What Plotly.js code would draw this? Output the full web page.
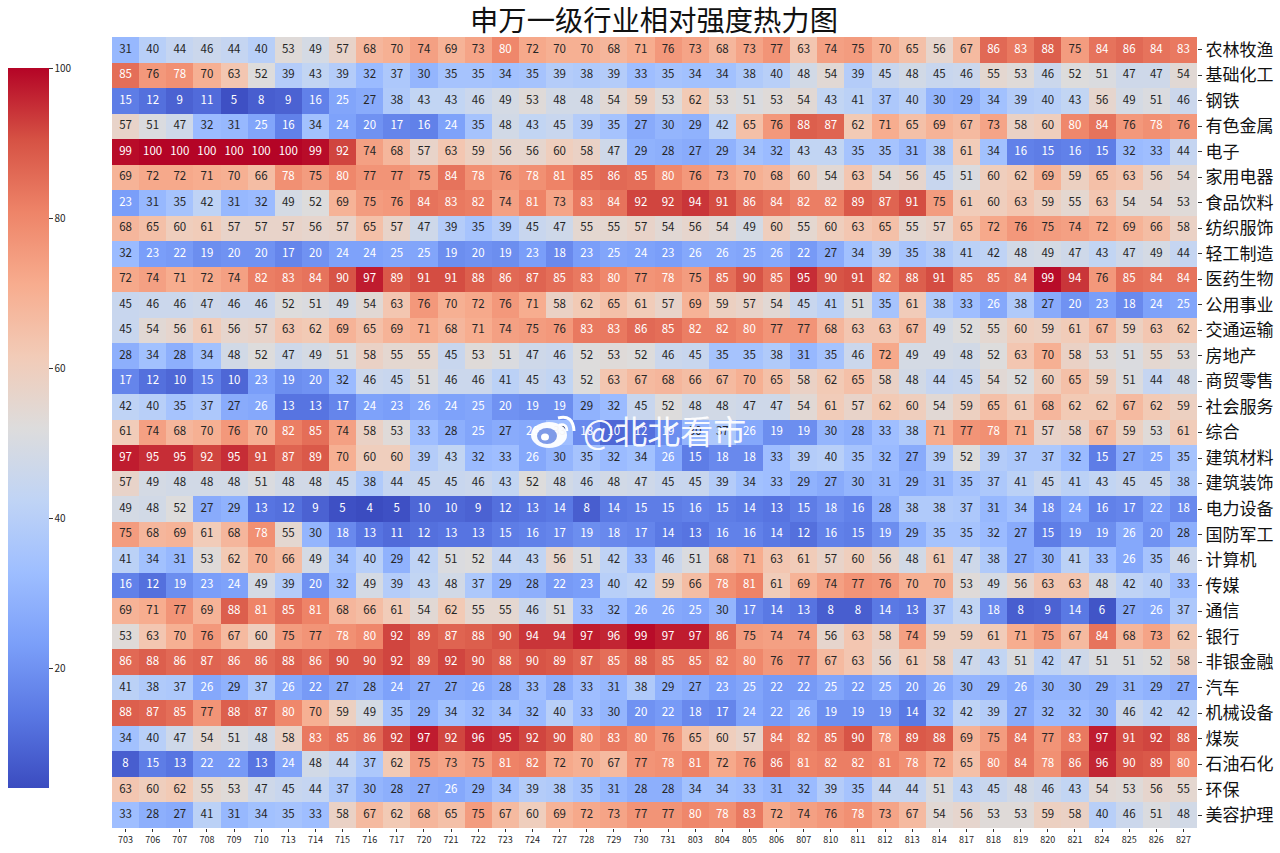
<!DOCTYPE html>
<html>
<head>
<meta charset="utf-8">
<script src="https://cdn.plot.ly/plotly-3.0.1.min.js"></script>
<style>body{margin:0;background:#fff}</style>
</head>
<body>
<div id="heat" style="width:1280px;height:853px"></div>
<script>
// ------------------------------
// Data
// ------------------------------
var dates = ['703','706','707','708','709','710','713','714','715','716','717','720','721','722','723','724','727','728','729','730','731','803','804','805','806','807','810','811','812','813','814','817','818','819','820','821','824','825','826','827'];

var sectors = ['农林牧渔','基础化工','钢铁','有色金属','电子','家用电器','食品饮料','纺织服饰','轻工制造','医药生物','公用事业','交通运输','房地产','商贸零售','社会服务','综合','建筑材料','建筑装饰','电力设备','国防军工','计算机','传媒','通信','银行','非银金融','汽车','机械设备','煤炭','石油石化','环保','美容护理'];

var strength = [
[31,40,44,46,44,40,53,49,57,68,70,74,69,73,80,72,70,70,68,71,76,73,68,73,77,63,74,75,70,65,56,67,86,83,88,75,84,86,84,83],
[85,76,78,70,63,52,39,43,39,32,37,30,35,35,34,35,39,38,39,33,35,34,34,38,40,48,54,39,45,48,45,46,55,53,46,52,51,47,47,54],
[15,12,9,11,5,8,9,16,25,27,38,43,43,46,49,53,48,48,54,59,53,62,53,51,53,54,43,41,37,40,30,29,34,39,40,43,56,49,51,46],
[57,51,47,32,31,25,16,34,24,20,17,16,24,35,48,43,45,39,35,27,30,29,42,65,76,88,87,62,71,65,69,67,73,58,60,80,84,76,78,76],
[99,100,100,100,100,100,100,99,92,74,68,57,63,59,56,56,60,58,47,29,28,27,29,34,32,43,43,35,35,31,38,61,34,16,15,16,15,32,33,44],
[69,72,72,71,70,66,78,75,80,77,77,75,84,78,76,78,81,85,86,85,80,76,73,70,68,60,54,63,54,56,45,51,60,62,69,59,65,63,56,54],
[23,31,35,42,31,32,49,52,69,75,76,84,83,82,74,81,73,83,84,92,92,94,91,86,84,82,82,89,87,91,75,61,60,63,59,55,63,54,54,53],
[68,65,60,61,57,57,57,56,57,65,57,47,39,35,39,45,47,55,55,57,54,56,54,49,60,55,60,63,65,55,57,65,72,76,75,74,72,69,66,58],
[32,23,22,19,20,20,17,20,24,24,25,25,19,20,19,23,18,23,25,24,23,26,26,25,26,22,27,34,39,35,38,41,42,48,49,47,43,47,49,44],
[72,74,71,72,74,82,83,84,90,97,89,91,91,88,86,87,85,83,80,77,78,75,85,90,85,95,90,91,82,88,91,85,85,84,99,94,76,85,84,84],
[45,46,46,47,46,46,52,51,49,54,63,76,70,72,76,71,58,62,65,61,57,69,59,57,54,45,41,51,35,61,38,33,26,38,27,20,23,18,24,25],
[45,54,56,61,56,57,63,62,69,65,69,71,68,71,74,75,76,83,83,86,85,82,82,80,77,77,68,63,63,67,49,52,55,60,59,61,67,59,63,62],
[28,34,28,34,48,52,47,49,51,58,55,55,45,53,51,47,46,52,53,52,46,45,35,35,38,31,35,46,72,49,49,48,52,63,70,58,53,51,55,53],
[17,12,10,15,10,23,19,20,32,46,45,51,46,46,41,45,43,52,63,67,68,66,67,70,65,58,62,65,58,48,44,45,54,52,60,65,59,51,44,48],
[42,40,35,37,27,26,13,13,17,24,23,26,24,25,20,19,19,29,32,45,52,48,48,47,47,54,61,57,62,60,54,59,65,61,68,62,62,67,62,59],
[61,74,68,70,76,70,82,85,74,58,53,33,28,25,27,26,33,18,10,12,19,30,37,26,19,19,30,28,33,38,71,77,78,71,57,58,67,59,53,61],
[97,95,95,92,95,91,87,89,70,60,60,39,43,32,33,26,30,35,32,34,26,15,18,18,33,39,40,35,32,27,39,52,39,37,37,32,15,27,25,35],
[57,49,48,48,48,51,48,48,45,38,44,45,45,46,43,52,48,46,48,47,45,45,39,34,33,29,27,30,31,29,31,35,37,41,45,41,43,45,45,38],
[49,48,52,27,29,13,12,9,5,4,5,10,10,9,12,13,14,8,14,15,15,16,15,14,13,15,18,16,28,38,38,37,31,34,18,24,16,17,22,18],
[75,68,69,61,68,78,55,30,18,13,11,12,13,13,15,16,17,19,18,17,14,13,16,16,14,12,16,15,19,29,35,35,32,27,15,19,19,26,20,28],
[41,34,31,53,62,70,66,49,34,40,29,42,51,52,44,43,56,51,42,33,46,51,68,71,63,61,57,60,56,48,61,47,38,27,30,41,33,26,35,46],
[16,12,19,23,24,49,39,20,32,49,39,43,48,37,29,28,22,23,40,42,59,66,78,81,61,69,74,77,76,70,70,53,49,56,63,63,48,42,40,33],
[69,71,77,69,88,81,85,81,68,66,61,54,62,55,55,46,51,33,32,26,26,25,30,17,14,13,8,8,14,13,37,43,18,8,9,14,6,27,26,37],
[53,63,70,76,67,60,75,77,78,80,92,89,87,88,90,94,94,97,96,99,97,97,86,75,74,74,56,63,58,74,59,59,61,71,75,67,84,68,73,62],
[86,88,86,87,86,86,88,86,90,90,92,89,92,90,88,90,89,87,85,88,85,85,82,80,76,77,67,63,56,61,58,47,43,51,42,47,51,51,52,58],
[41,38,37,26,29,37,26,22,27,28,24,27,27,26,28,33,28,33,31,38,29,27,23,25,22,22,25,22,25,20,26,30,29,26,30,30,29,31,29,27],
[88,87,85,77,88,87,80,70,59,49,35,29,34,32,34,32,40,33,30,20,22,18,17,24,22,26,19,19,19,14,32,42,39,27,32,32,30,46,42,42],
[34,40,47,54,51,48,58,83,85,86,92,97,92,96,95,92,90,80,83,80,76,65,60,57,84,82,85,90,78,89,88,69,75,84,77,83,97,91,92,88],
[8,15,13,22,22,13,24,48,44,37,62,75,73,75,81,82,72,70,67,77,78,81,72,76,86,81,82,82,81,78,72,65,80,84,78,86,96,90,89,80],
[63,60,62,55,53,47,45,44,37,30,28,27,26,29,34,39,38,35,31,28,28,34,34,33,31,32,39,35,44,44,51,43,45,48,46,43,54,53,56,55],
[33,28,27,41,31,34,35,33,58,67,62,68,65,75,67,60,69,72,73,77,77,80,78,83,72,74,76,78,73,67,54,56,53,53,59,58,40,46,51,48]
];

// ------------------------------
// coolwarm colormap
// ------------------------------
var coolwarm = ['#3b4cc0','#5977e3','#7b9ff9','#9ebeff','#c0d4f5','#dddcdc','#f2cbb7','#f7ac8e','#ee8468','#d65244','#b40426'];
var colorscale = coolwarm.map(function (c, i) { return [i / 10, c]; });

var cjk = '"Noto Sans CJK SC", "Noto Sans", sans-serif';

// pixel position to paper fraction, plot area is 112..1197 by 37..828
var px = function (x) { return (x - 112) / 1085; };
var py = function (y) { return 1 - (y - 37) / 791; };

// ------------------------------
// Cell labels, white on the dark cells
// ------------------------------
var labelX = [], labelY = [], labelText = [], labelColor = [];
sectors.forEach(function (s, r) {
  dates.forEach(function (d, c) {
    var v = strength[r][c];
    labelX.push(d);
    labelY.push(s);
    labelText.push(String(v));
    labelColor.push(v >= 78 || v <= 26 ? '#ffffff' : '#262626');
  });
});

var heat = {
  type: 'heatmap',
  x: dates,
  y: sectors,
  z: strength,
  zmin: 4,
  zmax: 100,
  colorscale: colorscale,
  colorbar: {
    x: px(8), xanchor: 'left',
    y: py(788), yanchor: 'bottom',
    lenmode: 'pixels', len: 720,
    thicknessmode: 'pixels', thickness: 41,
    xpad: 0, ypad: 0,
    outlinewidth: 0,
    tickvals: [20, 40, 60, 80, 100],
    ticks: 'outside', ticklen: 4, tickcolor: '#333',
    tickfont: {family: cjk, size: 10, color: '#262626'}
  }
};

var labels = {
  type: 'scatter',
  mode: 'text',
  x: labelX,
  y: labelY,
  text: labelText,
  textposition: 'middle center',
  textfont: {family: cjk, size: 11.5, color: labelColor},
  hoverinfo: 'skip',
  showlegend: false
};

// ------------------------------
// Watermark
// ------------------------------
function ellipse(cx, cy, rx, ry, fill) {
  return {type: 'circle', xref: 'paper', yref: 'paper', x0: px(cx - rx), x1: px(cx + rx),
    y0: py(cy + ry), y1: py(cy - ry), fillcolor: fill, line: {width: 0}};
}
var watermark = [
  ellipse(549, 435, 18, 13, 'rgba(255,255,255,0.95)'),
  ellipse(547, 436, 10, 8, '#7f9be8'),
  ellipse(545, 437, 4, 3.5, '#ffffff'),
  {type: 'path', xref: 'paper', yref: 'paper',
    path: 'M ' + px(558) + ' ' + py(418) + ' Q ' + px(573) + ' ' + py(414) + ' ' + px(574) + ' ' + py(431),
    line: {color: '#ffffff', width: 3}},
  {type: 'path', xref: 'paper', yref: 'paper',
    path: 'M ' + px(559) + ' ' + py(425) + ' Q ' + px(567) + ' ' + py(423) + ' ' + px(567) + ' ' + py(431),
    line: {color: '#ffffff', width: 2.5}}
];

var layout = {
  width: 1280,
  height: 853,
  margin: {l: 112, r: 83, t: 37, b: 25, pad: 0, autoexpand: false},
  paper_bgcolor: '#ffffff',
  plot_bgcolor: '#ffffff',
  font: {family: cjk, color: '#111'},
  title: {
    text: '申万一级行业相对强度热力图',
    font: {family: cjk, size: 28.3, color: '#111'},
    x: 654 / 1280, xanchor: 'center',
    y: 1 - 21 / 853, yanchor: 'middle'
  },
  xaxis: {
    type: 'category',
    range: [-0.5, dates.length - 0.5],
    showgrid: false, zeroline: false, showline: false,
    ticks: 'outside', ticklen: 3, tickcolor: '#333',
    tickangle: 0,
    tickfont: {family: cjk, size: 9, color: '#262626'}
  },
  yaxis: {
    type: 'category',
    side: 'right',
    range: [sectors.length - 0.5, -0.5],
    showgrid: false, zeroline: false, showline: false,
    ticks: 'outside', ticklen: 4, tickcolor: '#333',
    tickfont: {family: cjk, size: 17, color: '#111'}
  },
  shapes: watermark,
  annotations: [{
    xref: 'paper', yref: 'paper',
    x: px(664), y: py(430),
    xanchor: 'center', yanchor: 'middle',
    text: '@北北看市',
    showarrow: false,
    font: {family: cjk, size: 33, color: 'rgba(255,255,255,0.95)'}
  }]
};

Plotly.newPlot('heat', [heat, labels], layout, {displayModeBar: false});
</script>
</body>
</html>
